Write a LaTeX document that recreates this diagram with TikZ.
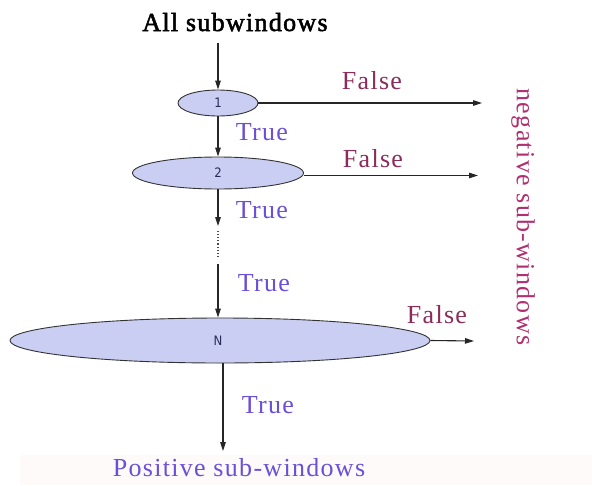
\documentclass[tikz,border=0pt]{standalone}
\usepackage{fontspec}
\setmainfont{Liberation Serif}[LetterSpace=5]
\newfontfamily\titlefont{Liberation Serif}[FakeBold=2,LetterSpace=5]
\newfontfamily\lblfont{DejaVu Sans Condensed}
\usetikzlibrary{shapes.geometric,arrows.meta}
\definecolor{falsecol}{HTML}{8B2D5C}
\definecolor{negcol}{HTML}{B0306F}
\definecolor{truecol}{HTML}{6B4FD8}
\definecolor{ellfill}{HTML}{C9CEF2}
\definecolor{lblcol}{HTML}{2A2A5A}
\definecolor{band}{HTML}{FEFAFA}
\tikzset{
  stage/.style={shape=ellipse, draw=black!80, fill=ellfill, line width=0.9pt, inner sep=0pt},
  stagelbl/.style={font=\lblfont\fontsize{13}{15}\selectfont, text=lblcol},
  arr/.style={draw=black!85, line width=1.1pt, -{Triangle[length=9pt,width=5.5pt]}},
  truelbl/.style={anchor=base, text=truecol, font=\fontsize{26}{30}\selectfont, inner sep=0pt},
  falselbl/.style={anchor=base, text=falsecol, font=\fontsize{26}{30}\selectfont, inner sep=0pt},
}
\begin{document}
\begin{tikzpicture}[x=1pt,y=-1pt]
\useasboundingbox (0,0) rectangle (592,485);
\fill[white] (0,0) rectangle (592,485);
\fill[band] (20,455) rectangle (592,485);

% title
\node[anchor=base, inner sep=0pt, font=\titlefont\fontsize{26}{30}\selectfont] (all) at (235,31) {All subwindows};

% stages
\node[stage, minimum width=80pt, minimum height=26pt] (e1) at (218,103) {};
\node[stagelbl] (l1) at (e1) {1};
\node[stage, minimum width=171pt, minimum height=32pt] (e2) at (218,173) {};
\node[stagelbl] (l2) at (e2) {2};
\node[stage, minimum width=420pt, minimum height=45pt] (eN) at (220,340.5) {};
\node[stagelbl] (lN) at (218,341) {N};

% free ends
\coordinate (s0) at (218,43);
\coordinate (f1) at (482,103);
\coordinate (f2) at (478,175.5);
\coordinate (fN) at (474,341);
\coordinate (d1) at (218,226);
\coordinate (d2) at (218,264);
\coordinate (p) at (223,451);

% connectors
\draw[arr] (s0) -- (e1.north);
\draw[arr] (e1.east) -- (f1);
\draw[arr] (e1.south) -- (e2.north);
\draw[arr] (e2.east |- f2) -- (f2);
\draw[arr] (e2.south) -- (d1);
\draw[black!70, line width=1.1pt, dotted] (218,231) -- (218,256);
\draw[arr] (d2) -- (d2 |- eN.north);
\draw[arr] (eN.east) -- (fN);
\draw[arr] (eN.south -| p) -- (p);

% labels
\node[falselbl] (fa1) at (372,89) {False};
\node[truelbl] (t1) at (262,140) {True};
\node[falselbl] (fa2) at (373,167) {False};
\node[truelbl] (t2) at (262,218) {True};
\node[truelbl] (t3) at (264,291) {True};
\node[falselbl] (fa3) at (437,323) {False};
\node[truelbl] (t4) at (268,413) {True};
\node[anchor=base, inner sep=0pt, text=truecol, font=\fontsize{26}{30}\selectfont] (pos) at (239,476) {Positive sub-windows};
\node[rotate=-90, inner sep=0pt, text=negcol, font=\fontsize{26}{30}\selectfont] (neg) at (523,217) {negative sub-windows};
\end{tikzpicture}
\end{document}
